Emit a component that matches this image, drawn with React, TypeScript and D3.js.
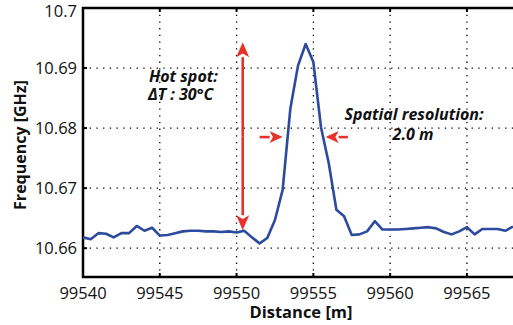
import React, { useEffect, useRef } from "react";
import * as d3 from "d3";

const distance = [
  99540, 99540.5, 99541, 99541.5, 99542, 99542.5, 99543, 99543.5, 99544,
  99544.5, 99545, 99545.5, 99546, 99546.5, 99547, 99547.5, 99548, 99548.5,
  99549, 99549.5, 99550, 99550.5, 99551, 99551.5, 99552, 99552.5, 99553,
  99553.5, 99554, 99554.5, 99555, 99555.5, 99556, 99556.5, 99557, 99557.5,
  99558, 99558.5, 99559, 99559.5, 99560, 99560.5, 99561, 99561.5, 99562,
  99562.5, 99563, 99563.5, 99564, 99564.5, 99565, 99565.5, 99566, 99566.5,
  99567, 99567.5, 99568,
];
const frequency = [
  10.6618, 10.6615, 10.6625, 10.6624, 10.6618, 10.6625, 10.6625, 10.6637,
  10.6629, 10.6634, 10.6621, 10.6622, 10.6625, 10.6628, 10.6629, 10.6629,
  10.6628, 10.6628, 10.6627, 10.6628, 10.6626, 10.6629, 10.6618, 10.6608,
  10.6617, 10.6647, 10.6697, 10.6832, 10.6904, 10.694, 10.691, 10.6801,
  10.6742, 10.6664, 10.6653, 10.6622, 10.6623, 10.6628, 10.6645, 10.6631,
  10.6631, 10.6631, 10.6632, 10.6633, 10.6634, 10.6635, 10.6633, 10.6627,
  10.6623, 10.6628, 10.6635, 10.6623, 10.6632, 10.6632, 10.6632, 10.6629,
  10.6636,
];
const xTicks = [99540, 99545, 99550, 99555, 99560, 99565];
const yTicks = [10.66, 10.67, 10.68, 10.69, 10.7];

const FONT = "'Open Sans', 'Noto Sans', sans-serif";
const RED = "#e8312a";

const App: React.FC = () => {
  const svgRef = useRef<SVGSVGElement | null>(null);

  useEffect(() => {
    const W = 513,
      H = 325;
    const left = 83,
      right = 513,
      top = 8,
      bottom = 277;

    const svg = d3.select(svgRef.current).attr("width", W).attr("height", H);
    svg.selectAll("*").remove();

    const x = d3.scaleLinear().domain([99540, 99568]).range([left, right]);
    const y = d3.scaleLinear().domain([10.6552, 10.7]).range([bottom, top]);

    // dotted grid
    const grid = svg.append("g").attr("stroke", "#000").attr("stroke-width", 1.3).attr("stroke-dasharray", "1.3,5.4");
    xTicks
      .filter((t) => t > 99540)
      .forEach((t) => {
        grid.append("line").attr("x1", x(t)).attr("x2", x(t)).attr("y1", top).attr("y2", bottom);
      });
    yTicks
      .filter((t) => t < 10.7)
      .forEach((t) => {
        grid.append("line").attr("x1", left).attr("x2", right).attr("y1", y(t)).attr("y2", y(t));
      });

    // tick marks (inward)
    const ticks = svg.append("g").attr("stroke", "#000").attr("stroke-width", 2);
    xTicks.forEach((t) => {
      ticks.append("line").attr("x1", x(t)).attr("x2", x(t)).attr("y1", bottom).attr("y2", bottom - 4);
      ticks.append("line").attr("x1", x(t)).attr("x2", x(t)).attr("y1", top).attr("y2", top + 4);
    });
    yTicks.forEach((t) => {
      ticks.append("line").attr("x1", left).attr("x2", left + 4).attr("y1", y(t)).attr("y2", y(t));
    });

    // frame
    svg
      .append("path")
      .attr("d", `M${right},${top}H${left}V${bottom}H${right}`)
      .attr("fill", "none")
      .attr("stroke", "#000")
      .attr("stroke-width", 2.5);

    // tick labels
    svg
      .append("g")
      .selectAll("text")
      .data(xTicks)
      .enter()
      .append("text")
      .attr("x", (d) => x(d))
      .attr("y", 299)
      .attr("text-anchor", "middle")
      .style("font-family", FONT)
      .style("font-size", "16.5px")
      .attr("fill", "#111")
      .text((d) => d3.format("d")(d));

    svg
      .append("g")
      .selectAll("text")
      .data(yTicks)
      .enter()
      .append("text")
      .attr("x", left - 6)
      .attr("y", (d) => Math.max(y(d) + 6, 17))
      .attr("text-anchor", "end")
      .style("font-family", FONT)
      .style("font-size", "16.5px")
      .attr("fill", "#111")
      .text((d) => d3.format("")(+d.toFixed(2)));

    // axis titles
    svg
      .append("text")
      .attr("x", 301)
      .attr("y", 318)
      .attr("text-anchor", "middle")
      .style("font-family", FONT)
      .style("font-size", "16.5px")
      .style("font-weight", "bold")
      .attr("fill", "#111")
      .text("Distance [m]");

    svg
      .append("text")
      .attr("transform", "translate(26,145) rotate(-90)")
      .attr("text-anchor", "middle")
      .style("font-family", FONT)
      .style("font-size", "16px")
      .style("font-weight", "bold")
      .attr("fill", "#111")
      .text("Frequency [GHz]");

    // data line
    const pts = distance.map((d, i) => [d, frequency[i]] as [number, number]);
    svg
      .append("path")
      .datum(pts)
      .attr("fill", "none")
      .attr("stroke", "#2c4a9e")
      .attr("stroke-width", 2.6)
      .attr("stroke-linejoin", "round")
      .attr(
        "d",
        d3
          .line<[number, number]>()
          .x((d) => x(d[0]))
          .y((d) => y(d[1]))
      );

    // arrows
    const arrow = (x1: number, y1: number, x2: number, y2: number, hl: number, hw: number) => {
      const ang = Math.atan2(y2 - y1, x2 - x1);
      const bx = x2 - hl * Math.cos(ang),
        by = y2 - hl * Math.sin(ang);
      const nx = -Math.sin(ang) * hw,
        ny = Math.cos(ang) * hw;
      svg
        .append("line")
        .attr("x1", x1)
        .attr("y1", y1)
        .attr("x2", bx)
        .attr("y2", by)
        .attr("stroke", RED)
        .attr("stroke-width", 2.6);
      svg
        .append("path")
        .attr("d", `M${x2},${y2}L${bx + nx},${by + ny}L${bx + hl * 0.25 * Math.cos(ang)},${by + hl * 0.25 * Math.sin(ang)}L${bx - nx},${by - ny}Z`)
        .attr("fill", RED);
    };
    const ax = x(99550.4);
    const yMid = (y(10.6943) + y(10.663)) / 2;
    arrow(ax, yMid, ax, y(10.6943), 15, 6.5);
    arrow(ax, yMid, ax, y(10.663), 15, 6.5);
    arrow(x(99551.5), y(10.6785), x(99553.0), y(10.6785), 13, 6);
    arrow(x(99557.25), y(10.6785), x(99555.8), y(10.6785), 13, 6);

    // annotation text
    const note = (tx: number, ty: number, s: string, anchor: string) =>
      svg
        .append("text")
        .attr("x", tx)
        .attr("y", ty)
        .attr("text-anchor", anchor)
        .style("font-family", FONT)
        .style("font-size", "16px")
        .style("font-weight", "bold")
        .style("font-style", "italic")
        .attr("fill", "#111")
        .text(s);
    note(149, 82, "Hot spot:", "start");
    note(148, 100, "\u0394T : 30\u00b0C", "start");
    note(414, 120, "Spatial resolution:", "middle");
    note(413, 140, "2.0 m", "middle");
  }, []);

  return <svg ref={svgRef} style={{ position: "absolute", left: 0, top: 0, display: "block" }}></svg>;
};

export default App;
